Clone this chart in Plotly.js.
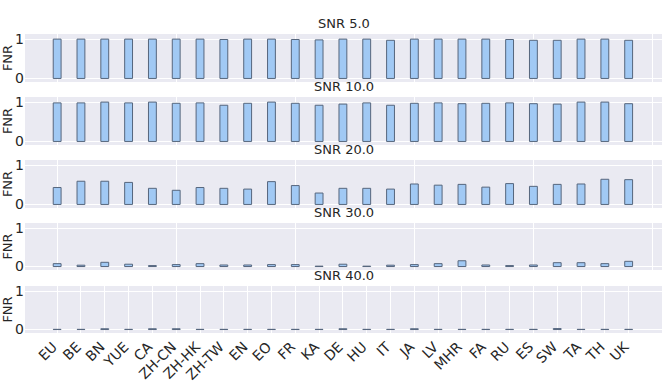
<!DOCTYPE html>
<html>
<head>
<meta charset="utf-8">
<script src="https://cdn.plot.ly/plotly-3.0.1.min.js"></script>
<style>
  html, body { margin: 0; padding: 0; background: #fff; }
  #chart { width: 664px; height: 388px; }
</style>
</head>
<body>
<div id="chart"></div>
<script>
// ===================== DATA =====================
// Language codes along the x axis
const languages = ['EU', 'BE', 'BN', 'YUE', 'CA', 'ZH-CN', 'ZH-HK', 'ZH-TW', 'EN', 'EO',
                   'FR', 'KA', 'DE', 'HU', 'IT', 'JA', 'LV', 'MHR', 'FA', 'RU',
                   'ES', 'SW', 'TA', 'TH', 'UK'];

const snrLevels = ['5.0', '10.0', '20.0', '30.0', '40.0'];

// False negative rate per language, one array per SNR level
const fnrSnr5  = [1.00, 1.00, 1.00, 1.00, 1.00, 1.00, 1.00, 0.99, 1.00, 1.00,
                  0.99, 0.98, 1.00, 1.00, 0.97, 1.00, 1.00, 1.00, 1.00, 0.99,
                  0.97, 0.97, 1.00, 1.00, 0.97];
const fnrSnr10 = [0.98, 0.98, 1.00, 0.98, 1.00, 0.97, 0.98, 0.92, 0.97, 1.00,
                  0.97, 0.92, 0.95, 0.98, 0.92, 0.97, 0.98, 0.96, 0.97, 0.98,
                  0.96, 0.95, 1.00, 1.00, 0.96];
const fnrSnr20 = [0.43, 0.59, 0.59, 0.56, 0.41, 0.36, 0.43, 0.41, 0.39, 0.58,
                  0.48, 0.29, 0.41, 0.41, 0.39, 0.52, 0.49, 0.51, 0.44, 0.53,
                  0.46, 0.51, 0.52, 0.64, 0.63];
const fnrSnr30 = [0.075, 0.035, 0.11, 0.06, 0.025, 0.05, 0.075, 0.04, 0.04, 0.05,
                  0.05, 0.01, 0.06, 0.01, 0.035, 0.05, 0.075, 0.15, 0.04, 0.025,
                  0.04, 0.10, 0.10, 0.075, 0.135];
const fnrSnr40 = [0.005, 0.005, 0.02, 0.005, 0.02, 0.02, 0.005, 0.005, 0.005, 0.005,
                  0.005, 0.005, 0.02, 0.005, 0.005, 0.02, 0.005, 0.005, 0.005, 0.005,
                  0.005, 0.025, 0.005, 0.005, 0.005];

const fnrSeries = [fnrSnr5, fnrSnr10, fnrSnr20, fnrSnr30, fnrSnr40];

// ===================== LAYOUT HELPERS =====================
const positions = languages.map((_, i) => i);
const font = 'DejaVu Sans, sans-serif';
const textColor = '#262626';

// Panel domains (top to bottom), in plot-area fractions
const domains = [
    [0.8395, 1.0],
    [0.6288, 0.7893],
    [0.4181, 0.5786],
    [0.2107, 0.3679],
    [0.0, 0.1572]
];

const traces = [];
const layout = {
    width: 664,
    height: 388,
    margin: { l: 25, r: 2, t: 34, b: 55 },
    paper_bgcolor: '#fff',
    plot_bgcolor: '#eaeaf2',
    font: { family: font, size: 12, color: textColor },
    showlegend: false,
    bargap: 0,
    annotations: []
};

fnrSeries.forEach((values, k) => {
    const n = k === 0 ? '' : String(k + 1);
    const isLast = k === fnrSeries.length - 1;

    traces.push({
        type: 'bar',
        x: positions,
        y: values,
        width: 0.33,
        xaxis: 'x' + n,
        yaxis: 'y' + n,
        marker: {
            color: '#a1c9f4',
            line: { color: '#56667d', width: 1 }
        },
        hoverinfo: 'skip'
    });

    // Top panels only show grid every 5 positions, bottom one labels each language
    layout['xaxis' + n] = {
        domain: [0, 1],
        anchor: 'y' + n,
        range: [-1.35, 25.4],
        tickmode: 'array',
        tickvals: isLast ? positions : [0, 5, 10, 15, 20, 25],
        ticktext: isLast ? languages : undefined,
        showticklabels: isLast,
        tickangle: -45,
        ticklabelshift: -4,
        ticklabelstandoff: 2,
        tickfont: { size: 14, family: font, color: textColor },
        ticks: '',
        showgrid: true,
        gridcolor: '#ffffff',
        gridwidth: 1,
        zeroline: false,
        showline: false
    };

    layout['yaxis' + n] = {
        domain: domains[k],
        anchor: 'x' + n,
        range: [-0.09, 1.13],
        tickvals: [0, 1],
        ticktext: ['0', '1'],
        tickfont: { size: 14, family: font, color: textColor },
        ticks: '',
        showgrid: true,
        gridcolor: '#ffffff',
        zeroline: false,
        showline: false,
        title: { text: 'FNR', font: { size: 13, family: font, color: textColor }, standoff: 4 }
    };

    // Panel title
    layout.annotations.push({
        text: 'SNR ' + snrLevels[k],
        xref: 'paper',
        yref: 'paper',
        x: 0.5,
        y: domains[k][1],
        xanchor: 'center',
        yanchor: 'bottom',
        yshift: 1,
        showarrow: false,
        font: { size: 13, family: font, color: textColor }
    });
});

Plotly.newPlot('chart', traces, layout, { displayModeBar: false, staticPlot: true });
</script>
</body>
</html>
